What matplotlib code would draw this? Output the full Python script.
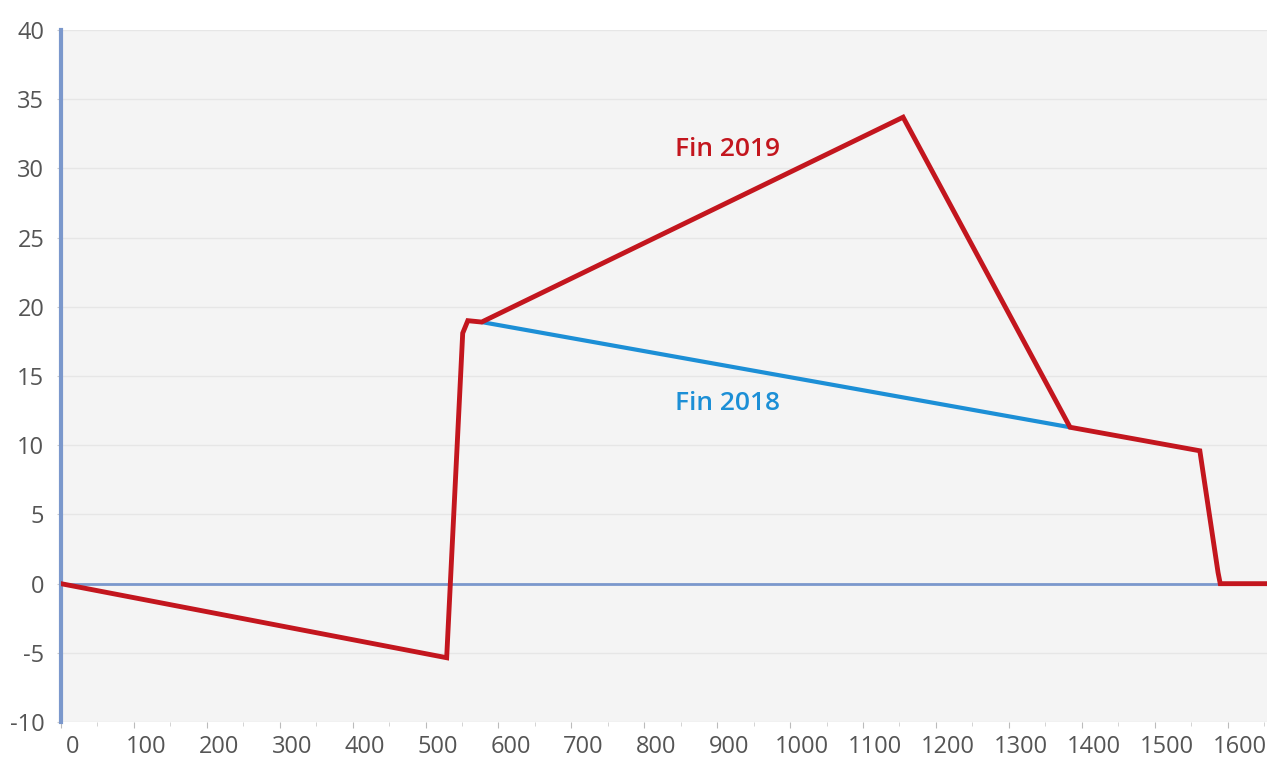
import matplotlib.pyplot as plt
import matplotlib.transforms as mtransforms
from matplotlib.ticker import MultipleLocator

# values
red_x = [0, 529, 551, 558, 577, 1155, 1384, 1562, 1587, 1590, 1654]
red_y = [0, -5.35, 18.1, 19.0, 18.9, 33.7, 11.3, 9.6, 0.8, 0.0, 0.0]
blue_x = [577, 1384]
blue_y = [18.9, 11.3]
label_2019 = 'Fin 2019'
label_2018 = 'Fin 2018'

red = '#c3161e'
blue = '#1c8fd6'
axis_blue = '#7b98cc'

plt.rcParams['font.family'] = ['Open Sans', 'DejaVu Sans']
plt.rcParams['axes.unicode_minus'] = False

fig = plt.figure(figsize=(12.81, 7.69), dpi=100)
ax = fig.add_axes([0.0476, 0.061, 0.9414, 0.9])
ax.set_facecolor('#f4f4f4')

ax.plot(blue_x, blue_y, color=blue, lw=3.0, solid_capstyle='round', zorder=3)
ax.plot(red_x, red_y, color=red, lw=3.5, solid_joinstyle='miter', zorder=4)
ax.axhline(0, color=axis_blue, lw=2, zorder=2)

ax.text(914, 31.4, label_2019, color=red, fontsize=19, fontweight='semibold',
        ha='center', va='center')
ax.text(914, 13.0, label_2018, color=blue, fontsize=19, fontweight='semibold',
        ha='center', va='center')

ax.set_xlim(0, 1654)
ax.set_ylim(-10, 40)
ax.xaxis.set_major_locator(MultipleLocator(100))
ax.xaxis.set_minor_locator(MultipleLocator(50))
ax.yaxis.set_major_locator(MultipleLocator(5))

ax.grid(axis='y', color='#e6e6e6', lw=1)
ax.set_axisbelow(True)

for s in ['top', 'right', 'bottom']:
    ax.spines[s].set_visible(False)
ax.spines['left'].set_color(axis_blue)
ax.spines['left'].set_linewidth(3)

ax.tick_params(axis='x', which='major', length=4, color='#bbbbbb', labelsize=17,
               labelcolor='#555555', pad=5)
ax.tick_params(axis='x', which='minor', length=3, color='#cccccc')
ax.tick_params(axis='y', length=3, color='#cccccc', labelsize=17,
               labelcolor='#555555', pad=9)

# x labels sit a little right of their ticks in the reference
shift = mtransforms.ScaledTranslation(0.12, 0, fig.dpi_scale_trans)
for lab in ax.get_xticklabels():
    lab.set_transform(lab.get_transform() + shift)

fig.savefig('out.png', dpi=100, facecolor='white')
